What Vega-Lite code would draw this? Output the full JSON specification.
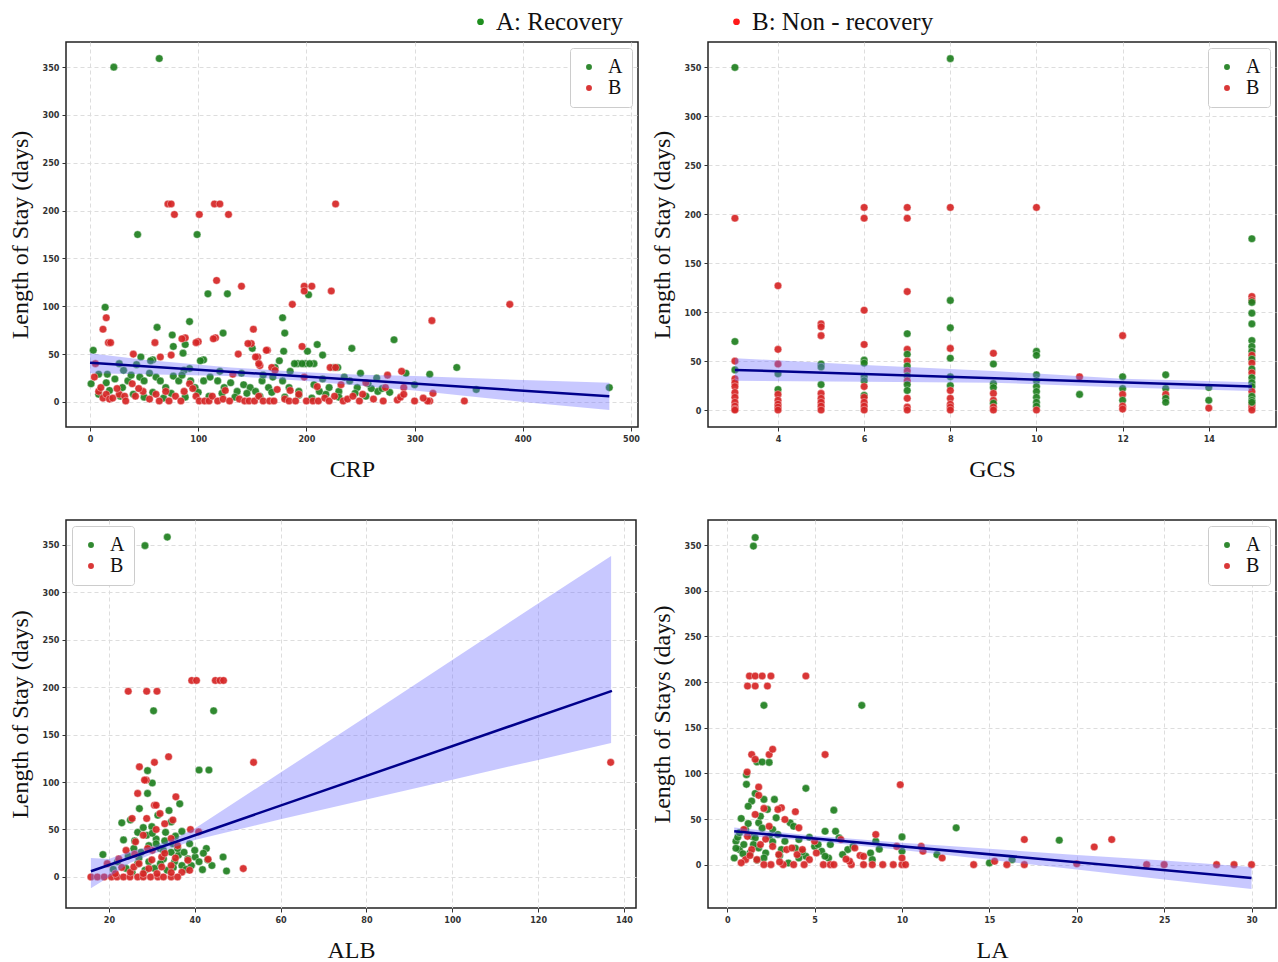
{
  "$schema": "https://vega.github.io/schema/vega-lite/v6.json",
  "autosize": {"type": "none"},
  "padding": {"left": 66, "top": 42, "right": 1212, "bottom": 920},
  "background": "white",
  "columns": 2,
  "spacing": {"row": 93, "column": 70},
  "bounds": "flush",
  "resolve": {"scale": {"color": "independent", "fill": "independent"}, "legend": {"color": "independent", "fill": "independent"}},
  "datasets": {
    "topLegend": [{"label": "A: Recovery"}, {"label": "B: Non - recovery"}],
    "crpLine": [{"x": 0, "y": 41}, {"x": 480, "y": 6}],
    "crpBand": [{"x": 0, "lo": 30, "hi": 51}, {"x": 50, "lo": 29, "hi": 44}, {"x": 130, "lo": 27, "hi": 36}, {"x": 200, "lo": 22, "hi": 31}, {"x": 250, "lo": 17, "hi": 28.5}, {"x": 300, "lo": 12, "hi": 27}, {"x": 350, "lo": 6, "hi": 25}, {"x": 400, "lo": 0, "hi": 23}, {"x": 480, "lo": -8.5, "hi": 20}],
    "gcsLine": [{"x": 3, "y": 41}, {"x": 15, "y": 24}],
    "gcsBand": [{"x": 3, "lo": 30, "hi": 53}, {"x": 6, "lo": 29, "hi": 46}, {"x": 9, "lo": 28, "hi": 40}, {"x": 12, "lo": 23, "hi": 32}, {"x": 15, "lo": 19.5, "hi": 28.5}],
    "albLine": [{"x": 15.8, "y": 6}, {"x": 137.2, "y": 196}],
    "albBand": [{"x": 15.8, "lo": -12, "hi": 20}, {"x": 20, "lo": 0, "hi": 19}, {"x": 25, "lo": 15, "hi": 27}, {"x": 30, "lo": 24, "hi": 32}, {"x": 35, "lo": 31, "hi": 40}, {"x": 40, "lo": 39, "hi": 51}, {"x": 60, "lo": 60.8, "hi": 110}, {"x": 80, "lo": 81.6, "hi": 169}, {"x": 100, "lo": 102.5, "hi": 228.5}, {"x": 120, "lo": 123.3, "hi": 288}, {"x": 137, "lo": 141, "hi": 338}],
    "laLine": [{"x": 0.4, "y": 36.6}, {"x": 30, "y": -14.6}],
    "laBand": [{"x": 0.4, "lo": 32.6, "hi": 40.6}, {"x": 5, "lo": 25.7, "hi": 31.7}, {"x": 10, "lo": 16, "hi": 24}, {"x": 15, "lo": 5.4, "hi": 17.4}, {"x": 20, "lo": -5.3, "hi": 10.7}, {"x": 25, "lo": -16.4, "hi": 4.6}, {"x": 30, "lo": -26.6, "hi": -2.6}],
    "crp": [
      {"x":22,"y":350,"g":"A"},{"x":64,"y":359,"g":"A"},{"x":44,"y":175,"g":"A"},{"x":99,"y":175,"g":"A"},{"x":109,"y":113,"g":"A"},{"x":127,"y":113,"g":"A"},{"x":202,"y":112,"g":"A"},{"x":14,"y":99,"g":"A"},{"x":178,"y":88,"g":"A"},{"x":62,"y":78,"g":"A"},{"x":92,"y":84,"g":"A"},{"x":76,"y":70,"g":"A"},{"x":180,"y":72,"g":"A"},{"x":123,"y":72,"g":"A"},{"x":281,"y":65,"g":"A"},{"x":88,"y":60,"g":"A"},{"x":77,"y":58,"g":"A"},{"x":210,"y":60,"g":"A"},{"x":242,"y":56,"g":"A"},{"x":179,"y":53,"g":"A"},{"x":201,"y":53,"g":"A"},{"x":215,"y":49,"g":"A"},{"x":86,"y":51,"g":"A"},{"x":3,"y":54,"g":"A"},{"x":47,"y":47,"g":"A"},{"x":150,"y":56,"g":"A"},{"x":105,"y":44,"g":"A"},{"x":58,"y":44,"g":"A"},{"x":192,"y":40,"g":"A"},{"x":199,"y":40,"g":"A"},{"x":207,"y":40,"g":"A"},{"x":339,"y":36,"g":"A"},{"x":229,"y":36,"g":"A"},{"x":171,"y":36,"g":"A"},{"x":43,"y":39,"g":"A"},{"x":92,"y":35,"g":"A"},{"x":292,"y":30,"g":"A"},{"x":314,"y":29,"g":"A"},{"x":357,"y":13,"g":"A"},{"x":480,"y":15,"g":"A"},{"x":277,"y":10,"g":"A"},{"x":266,"y":11,"g":"A"},{"x":260,"y":14,"g":"A"},{"x":257,"y":19,"g":"A"},
      {"x":1,"y":19,"g":"A"},{"x":8,"y":29,"g":"A"},{"x":16,"y":29,"g":"A"},{"x":23,"y":24,"g":"A"},{"x":31,"y":33,"g":"A"},{"x":35,"y":22,"g":"A"},{"x":46,"y":26,"g":"A"},{"x":50,"y":22,"g":"A"},{"x":56,"y":43,"g":"A"},{"x":61,"y":26,"g":"A"},{"x":65,"y":22,"g":"A"},{"x":70,"y":15,"g":"A"},{"x":77,"y":27,"g":"A"},{"x":82,"y":22,"g":"A"},{"x":87,"y":33,"g":"A"},{"x":93,"y":22,"g":"A"},{"x":97,"y":15,"g":"A"},{"x":102,"y":43,"g":"A"},{"x":105,"y":22,"g":"A"},{"x":111,"y":26,"g":"A"},{"x":118,"y":22,"g":"A"},{"x":124,"y":15,"g":"A"},{"x":130,"y":20,"g":"A"},{"x":136,"y":11,"g":"A"},{"x":142,"y":18,"g":"A"},{"x":148,"y":15,"g":"A"},{"x":153,"y":11,"g":"A"},{"x":159,"y":22,"g":"A"},{"x":165,"y":15,"g":"A"},{"x":169,"y":26,"g":"A"},{"x":175,"y":43,"g":"A"},{"x":178,"y":22,"g":"A"},{"x":184,"y":15,"g":"A"},{"x":189,"y":40,"g":"A"},{"x":193,"y":11,"g":"A"},{"x":196,"y":40,"g":"A"},{"x":203,"y":40,"g":"A"},{"x":207,"y":18,"g":"A"},{"x":212,"y":11,"g":"A"},{"x":215,"y":24,"g":"A"},{"x":221,"y":15,"g":"A"},{"x":225,"y":36,"g":"A"},{"x":230,"y":11,"g":"A"},{"x":240,"y":22,"g":"A"},{"x":247,"y":15,"g":"A"},
      {"x":8,"y":8,"g":"A"},{"x":18,"y":12,"g":"A"},{"x":28,"y":6,"g":"A"},{"x":40,"y":8,"g":"A"},{"x":50,"y":5,"g":"A"},{"x":58,"y":10,"g":"A"},{"x":68,"y":4,"g":"A"},{"x":75,"y":9,"g":"A"},{"x":88,"y":5,"g":"A"},{"x":100,"y":10,"g":"A"},{"x":110,"y":6,"g":"A"},{"x":122,"y":9,"g":"A"},{"x":134,"y":5,"g":"A"},{"x":145,"y":9,"g":"A"},{"x":157,"y":6,"g":"A"},{"x":168,"y":10,"g":"A"},{"x":180,"y":5,"g":"A"},{"x":193,"y":7,"g":"A"},{"x":205,"y":4,"g":"A"},{"x":218,"y":8,"g":"A"},{"x":230,"y":5,"g":"A"},{"x":245,"y":9,"g":"A"},{"x":255,"y":6,"g":"A"},{"x":270,"y":14,"g":"A"},{"x":300,"y":18,"g":"A"},{"x":250,"y":30,"g":"A"},{"x":235,"y":26,"g":"A"},{"x":140,"y":30,"g":"A"},{"x":120,"y":32,"g":"A"},{"x":85,"y":28,"g":"A"},{"x":55,"y":30,"g":"A"},{"x":30,"y":15,"g":"A"},{"x":15,"y":20,"g":"A"},{"x":38,"y":28,"g":"A"},{"x":160,"y":28,"g":"A"},{"x":185,"y":32,"g":"A"},{"x":265,"y":25,"g":"A"},{"x":27,"y":40,"g":"A"},
      {"x":72,"y":207,"g":"B"},{"x":75,"y":207,"g":"B"},{"x":78,"y":196,"g":"B"},{"x":101,"y":196,"g":"B"},{"x":115,"y":207,"g":"B"},{"x":120,"y":207,"g":"B"},{"x":128,"y":196,"g":"B"},{"x":227,"y":207,"g":"B"},{"x":117,"y":127,"g":"B"},{"x":140,"y":121,"g":"B"},{"x":198,"y":121,"g":"B"},{"x":205,"y":121,"g":"B"},{"x":198,"y":116,"g":"B"},{"x":223,"y":116,"g":"B"},{"x":187,"y":102,"g":"B"},{"x":388,"y":102,"g":"B"},{"x":15,"y":88,"g":"B"},{"x":12,"y":76,"g":"B"},{"x":316,"y":85,"g":"B"},{"x":151,"y":76,"g":"B"},{"x":17,"y":62,"g":"B"},{"x":19,"y":62,"g":"B"},{"x":60,"y":62,"g":"B"},{"x":88,"y":67,"g":"B"},{"x":116,"y":67,"g":"B"},{"x":100,"y":63,"g":"B"},{"x":149,"y":61,"g":"B"},{"x":164,"y":54,"g":"B"},{"x":196,"y":58,"g":"B"},{"x":40,"y":50,"g":"B"},{"x":65,"y":47,"g":"B"},{"x":137,"y":50,"g":"B"},{"x":155,"y":47,"g":"B"},{"x":222,"y":36,"g":"B"},{"x":227,"y":36,"g":"B"},{"x":157,"y":38,"g":"B"},{"x":288,"y":32,"g":"B"},{"x":275,"y":28,"g":"B"},{"x":317,"y":9,"g":"B"},{"x":346,"y":1,"g":"B"},{"x":314,"y":1,"g":"B"},{"x":312,"y":1,"g":"B"},{"x":300,"y":1,"g":"B"},{"x":284,"y":2,"g":"B"},{"x":287,"y":5,"g":"B"},{"x":290,"y":15,"g":"B"},{"x":273,"y":15,"g":"B"},{"x":271,"y":1,"g":"B"},
      {"x":4,"y":26,"g":"B"},{"x":8,"y":11,"g":"B"},{"x":12,"y":4,"g":"B"},{"x":15,"y":8,"g":"B"},{"x":18,"y":3,"g":"B"},{"x":21,"y":4,"g":"B"},{"x":27,"y":8,"g":"B"},{"x":32,"y":6,"g":"B"},{"x":33,"y":1,"g":"B"},{"x":39,"y":19,"g":"B"},{"x":42,"y":6,"g":"B"},{"x":49,"y":11,"g":"B"},{"x":55,"y":3,"g":"B"},{"x":61,"y":8,"g":"B"},{"x":64,"y":1,"g":"B"},{"x":70,"y":11,"g":"B"},{"x":73,"y":1,"g":"B"},{"x":79,"y":6,"g":"B"},{"x":84,"y":1,"g":"B"},{"x":87,"y":11,"g":"B"},{"x":92,"y":19,"g":"B"},{"x":98,"y":6,"g":"B"},{"x":101,"y":1,"g":"B"},{"x":106,"y":1,"g":"B"},{"x":110,"y":1,"g":"B"},{"x":113,"y":6,"g":"B"},{"x":118,"y":1,"g":"B"},{"x":123,"y":3,"g":"B"},{"x":129,"y":1,"g":"B"},{"x":132,"y":29,"g":"B"},{"x":138,"y":3,"g":"B"},{"x":143,"y":1,"g":"B"},{"x":147,"y":1,"g":"B"},{"x":152,"y":1,"g":"B"},{"x":156,"y":6,"g":"B"},{"x":160,"y":1,"g":"B"},{"x":166,"y":1,"g":"B"},{"x":170,"y":1,"g":"B"},{"x":173,"y":13,"g":"B"},{"x":180,"y":3,"g":"B"},{"x":184,"y":1,"g":"B"},{"x":190,"y":1,"g":"B"},{"x":193,"y":8,"g":"B"},{"x":200,"y":1,"g":"B"},{"x":206,"y":1,"g":"B"},{"x":211,"y":1,"g":"B"},{"x":217,"y":4,"g":"B"},{"x":221,"y":1,"g":"B"},{"x":226,"y":6,"g":"B"},{"x":234,"y":1,"g":"B"},{"x":238,"y":3,"g":"B"},{"x":243,"y":6,"g":"B"},{"x":249,"y":1,"g":"B"},{"x":252,"y":8,"g":"B"},
      {"x":85,"y":66,"g":"B"},{"x":98,"y":62,"g":"B"},{"x":114,"y":66,"g":"B"},{"x":146,"y":61,"g":"B"},{"x":163,"y":54,"g":"B"},{"x":153,"y":47,"g":"B"},{"x":156,"y":40,"g":"B"},{"x":168,"y":36,"g":"B"},{"x":171,"y":33,"g":"B"},{"x":75,"y":49,"g":"B"},{"x":10,"y":15,"g":"B"},{"x":25,"y":14,"g":"B"},{"x":45,"y":14,"g":"B"},{"x":95,"y":14,"g":"B"},{"x":125,"y":12,"g":"B"},{"x":185,"y":12,"g":"B"},{"x":210,"y":16,"g":"B"},{"x":255,"y":20,"g":"B"},{"x":262,"y":3,"g":"B"},{"x":232,"y":18,"g":"B"},{"x":198,"y":26,"g":"B"},{"x":290,"y":8,"g":"B"},{"x":308,"y":4,"g":"B"},{"x":5,"y":40,"g":"B"}
    ],
    "gcs": [
      {"x":3,"y":350,"g":"A"},{"x":3,"y":196,"g":"B"},{"x":3,"y":70,"g":"A"},{"x":3,"y":50,"g":"B"},{"x":3,"y":41,"g":"A"},{"x":3,"y":32,"g":"B"},{"x":3,"y":28,"g":"B"},{"x":3,"y":24,"g":"B"},{"x":3,"y":18,"g":"B"},{"x":3,"y":13,"g":"B"},{"x":3,"y":8,"g":"B"},{"x":3,"y":4,"g":"B"},{"x":3,"y":1,"g":"B"},{"x":3,"y":0,"g":"B"},
      {"x":4,"y":127,"g":"B"},{"x":4,"y":62,"g":"B"},{"x":4,"y":47,"g":"B"},{"x":4,"y":37,"g":"A"},{"x":4,"y":21,"g":"A"},{"x":4,"y":16,"g":"B"},{"x":4,"y":10,"g":"B"},{"x":4,"y":6,"g":"B"},{"x":4,"y":3,"g":"B"},{"x":4,"y":0,"g":"B"},
      {"x":5,"y":88,"g":"B"},{"x":5,"y":85,"g":"B"},{"x":5,"y":76,"g":"B"},{"x":5,"y":47,"g":"A"},{"x":5,"y":44,"g":"A"},{"x":5,"y":26,"g":"A"},{"x":5,"y":17,"g":"B"},{"x":5,"y":12,"g":"B"},{"x":5,"y":8,"g":"B"},{"x":5,"y":4,"g":"B"},{"x":5,"y":0,"g":"B"},
      {"x":6,"y":207,"g":"B"},{"x":6,"y":196,"g":"B"},{"x":6,"y":102,"g":"B"},{"x":6,"y":67,"g":"B"},{"x":6,"y":51,"g":"A"},{"x":6,"y":48,"g":"A"},{"x":6,"y":34,"g":"A"},{"x":6,"y":30,"g":"A"},{"x":6,"y":24,"g":"B"},{"x":6,"y":15,"g":"A"},{"x":6,"y":13,"g":"B"},{"x":6,"y":8,"g":"B"},{"x":6,"y":4,"g":"B"},{"x":6,"y":0,"g":"B"},
      {"x":7,"y":207,"g":"B"},{"x":7,"y":196,"g":"B"},{"x":7,"y":121,"g":"B"},{"x":7,"y":78,"g":"A"},{"x":7,"y":62,"g":"B"},{"x":7,"y":57,"g":"A"},{"x":7,"y":50,"g":"B"},{"x":7,"y":45,"g":"A"},{"x":7,"y":40,"g":"B"},{"x":7,"y":35,"g":"A"},{"x":7,"y":30,"g":"B"},{"x":7,"y":26,"g":"A"},{"x":7,"y":20,"g":"A"},{"x":7,"y":12,"g":"B"},{"x":7,"y":3,"g":"B"},{"x":7,"y":0,"g":"B"},
      {"x":8,"y":359,"g":"A"},{"x":8,"y":207,"g":"B"},{"x":8,"y":112,"g":"A"},{"x":8,"y":84,"g":"A"},{"x":8,"y":63,"g":"B"},{"x":8,"y":53,"g":"A"},{"x":8,"y":34,"g":"A"},{"x":8,"y":25,"g":"A"},{"x":8,"y":20,"g":"B"},{"x":8,"y":12,"g":"B"},{"x":8,"y":6,"g":"B"},{"x":8,"y":3,"g":"B"},{"x":8,"y":0,"g":"B"},
      {"x":9,"y":58,"g":"B"},{"x":9,"y":47,"g":"A"},{"x":9,"y":27,"g":"A"},{"x":9,"y":23,"g":"A"},{"x":9,"y":17,"g":"B"},{"x":9,"y":10,"g":"B"},{"x":9,"y":7,"g":"A"},{"x":9,"y":3,"g":"B"},{"x":9,"y":0,"g":"B"},
      {"x":10,"y":207,"g":"B"},{"x":10,"y":60,"g":"A"},{"x":10,"y":56,"g":"A"},{"x":10,"y":36,"g":"A"},{"x":10,"y":30,"g":"A"},{"x":10,"y":24,"g":"A"},{"x":10,"y":19,"g":"A"},{"x":10,"y":13,"g":"A"},{"x":10,"y":8,"g":"A"},{"x":10,"y":4,"g":"A"},{"x":10,"y":0,"g":"B"},
      {"x":11,"y":34,"g":"B"},{"x":11,"y":16,"g":"A"},
      {"x":12,"y":76,"g":"B"},{"x":12,"y":34,"g":"A"},{"x":12,"y":22,"g":"A"},{"x":12,"y":16,"g":"B"},{"x":12,"y":10,"g":"A"},{"x":12,"y":4,"g":"B"},{"x":12,"y":1,"g":"B"},
      {"x":13,"y":36,"g":"A"},{"x":13,"y":22,"g":"A"},{"x":13,"y":16,"g":"B"},{"x":13,"y":12,"g":"A"},{"x":13,"y":8,"g":"A"},
      {"x":14,"y":23,"g":"A"},{"x":14,"y":10,"g":"A"},{"x":14,"y":2,"g":"B"},
      {"x":15,"y":175,"g":"A"},{"x":15,"y":116,"g":"B"},{"x":15,"y":112,"g":"B"},{"x":15,"y":110,"g":"A"},{"x":15,"y":99,"g":"A"},{"x":15,"y":88,"g":"A"},{"x":15,"y":71,"g":"A"},{"x":15,"y":65,"g":"A"},{"x":15,"y":60,"g":"A"},{"x":15,"y":56,"g":"B"},{"x":15,"y":52,"g":"A"},{"x":15,"y":48,"g":"B"},{"x":15,"y":42,"g":"A"},{"x":15,"y":38,"g":"B"},{"x":15,"y":33,"g":"A"},{"x":15,"y":28,"g":"A"},{"x":15,"y":24,"g":"A"},{"x":15,"y":19,"g":"B"},{"x":15,"y":14,"g":"A"},{"x":15,"y":10,"g":"A"},{"x":15,"y":6,"g":"B"},{"x":15,"y":3,"g":"B"},{"x":15,"y":0,"g":"B"},{"x":15,"y":8,"g":"A"}
    ],
    "alb": [
      {"x":28.4,"y":349,"g":"A"},{"x":33.6,"y":358,"g":"A"},{"x":30.4,"y":175,"g":"A"},{"x":44.4,"y":175,"g":"A"},{"x":41,"y":112.6,"g":"A"},{"x":43.3,"y":112.6,"g":"A"},{"x":29,"y":112,"g":"A"},{"x":30.1,"y":99,"g":"A"},{"x":29,"y":88,"g":"A"},{"x":27.1,"y":72,"g":"A"},{"x":34,"y":70,"g":"A"},{"x":36.5,"y":77,"g":"A"},{"x":23,"y":57,"g":"A"},{"x":30,"y":53,"g":"A"},{"x":23.4,"y":39,"g":"A"},{"x":18.6,"y":23.6,"g":"A"},{"x":26.7,"y":47,"g":"A"},{"x":28.8,"y":44,"g":"A"},{"x":31,"y":40,"g":"A"},{"x":33.2,"y":47,"g":"A"},{"x":34.5,"y":58,"g":"A"},{"x":31.4,"y":65,"g":"A"},{"x":38.8,"y":35,"g":"A"},{"x":40.1,"y":21,"g":"A"},{"x":42.7,"y":30,"g":"A"},{"x":44,"y":12,"g":"A"},{"x":46.6,"y":21,"g":"A"},{"x":47.4,"y":6.3,"g":"A"},{"x":41.8,"y":7.7,"g":"A"},{"x":37,"y":12,"g":"A"},{"x":35.3,"y":16,"g":"A"},{"x":25.8,"y":30,"g":"A"},{"x":24,"y":9,"g":"A"},{"x":21,"y":8,"g":"A"},{"x":22,"y":16,"g":"A"},{"x":31.9,"y":30,"g":"A"},{"x":32.7,"y":19,"g":"A"},{"x":29.3,"y":16,"g":"A"},{"x":27.5,"y":26,"g":"A"},{"x":34.5,"y":26,"g":"A"},{"x":36.2,"y":23,"g":"A"},{"x":38.4,"y":19,"g":"A"},{"x":39.2,"y":12,"g":"A"},{"x":41,"y":16,"g":"A"},{"x":26.7,"y":14,"g":"A"},{"x":30.6,"y":9,"g":"A"},{"x":33.6,"y":7,"g":"A"},{"x":28.4,"y":7,"g":"A"},{"x":25.4,"y":5,"g":"A"},{"x":31,"y":35,"g":"A"},{"x":29.3,"y":33,"g":"A"},{"x":32.7,"y":28,"g":"A"},{"x":30.1,"y":46,"g":"A"},{"x":34.9,"y":35,"g":"A"},{"x":36,"y":30,"g":"A"},{"x":37.5,"y":26,"g":"A"},{"x":33,"y":38,"g":"A"},{"x":27,"y":20,"g":"A"},{"x":24.5,"y":22,"g":"A"},{"x":35,"y":10,"g":"A"},{"x":32,"y":14,"g":"A"},{"x":38,"y":8,"g":"A"},{"x":42,"y":25,"g":"A"},{"x":43,"y":18,"g":"A"},{"x":40,"y":28,"g":"A"},{"x":26,"y":38,"g":"A"},{"x":28,"y":52,"g":"A"},{"x":25,"y":60,"g":"A"},{"x":35.5,"y":43,"g":"A"},{"x":37,"y":48,"g":"A"},
      {"x":24.5,"y":195.6,"g":"B"},{"x":28.8,"y":195.6,"g":"B"},{"x":31.2,"y":195.6,"g":"B"},{"x":39.3,"y":207,"g":"B"},{"x":40.4,"y":207,"g":"B"},{"x":44.8,"y":207,"g":"B"},{"x":45.9,"y":207,"g":"B"},{"x":46.7,"y":207,"g":"B"},{"x":33.9,"y":126.6,"g":"B"},{"x":30.6,"y":120.7,"g":"B"},{"x":27.1,"y":116,"g":"B"},{"x":53.7,"y":120.7,"g":"B"},{"x":136.9,"y":120.7,"g":"B"},{"x":28.7,"y":102,"g":"B"},{"x":28.3,"y":102,"g":"B"},{"x":26.7,"y":88,"g":"B"},{"x":30.6,"y":75.6,"g":"B"},{"x":31,"y":75.6,"g":"B"},{"x":35.6,"y":84.4,"g":"B"},{"x":25.4,"y":61.6,"g":"B"},{"x":28.8,"y":61.6,"g":"B"},{"x":19.6,"y":14,"g":"B"},{"x":51.3,"y":8.8,"g":"B"},{"x":43.1,"y":18.6,"g":"B"},{"x":39,"y":50,"g":"B"},{"x":40.9,"y":47.5,"g":"B"},{"x":34.5,"y":40.5,"g":"B"},{"x":31.9,"y":66.8,"g":"B"},{"x":34.9,"y":60,"g":"B"},{"x":28,"y":44,"g":"B"},{"x":26.2,"y":37,"g":"B"},{"x":24,"y":28,"g":"B"},{"x":22.3,"y":19,"g":"B"},{"x":30.1,"y":28,"g":"B"},{"x":32.3,"y":21,"g":"B"},{"x":34.5,"y":12,"g":"B"},{"x":38.4,"y":17.6,"g":"B"},{"x":38.8,"y":7,"g":"B"},{"x":37,"y":5,"g":"B"},
      {"x":15.8,"y":0,"g":"B"},{"x":17.3,"y":0,"g":"B"},{"x":18.9,"y":0,"g":"B"},{"x":20.6,"y":0,"g":"B"},{"x":21.9,"y":0,"g":"B"},{"x":23.4,"y":0,"g":"B"},{"x":24.9,"y":0,"g":"B"},{"x":26.7,"y":0,"g":"B"},{"x":28,"y":0,"g":"B"},{"x":29.7,"y":0,"g":"B"},{"x":31.4,"y":0,"g":"B"},{"x":32.7,"y":0,"g":"B"},{"x":34.5,"y":0,"g":"B"},{"x":36,"y":0,"g":"B"},
      {"x":21.5,"y":3.5,"g":"B"},{"x":25,"y":5,"g":"B"},{"x":28,"y":3.5,"g":"B"},{"x":31.2,"y":3.5,"g":"B"},{"x":34.5,"y":4.6,"g":"B"},{"x":29.3,"y":8.8,"g":"B"},{"x":25.8,"y":10.5,"g":"B"},{"x":32.3,"y":10.5,"g":"B"},{"x":27,"y":14,"g":"B"},{"x":30,"y":18,"g":"B"},{"x":33,"y":25,"g":"B"},{"x":36,"y":33,"g":"B"},{"x":29,"y":30,"g":"B"},{"x":23,"y":10,"g":"B"},{"x":35.5,"y":20,"g":"B"},{"x":26,"y":24,"g":"B"},{"x":31,"y":50,"g":"B"},{"x":33,"y":56,"g":"B"}
    ],
    "la": [
      {"x":1.5,"y":349,"g":"A"},{"x":1.6,"y":358.4,"g":"A"},{"x":2.1,"y":174.5,"g":"A"},{"x":7.7,"y":174.5,"g":"A"},{"x":1.7,"y":112.5,"g":"A"},{"x":2.0,"y":112.5,"g":"A"},{"x":2.4,"y":112,"g":"A"},{"x":1.1,"y":98.6,"g":"A"},{"x":1.1,"y":88,"g":"A"},{"x":4.5,"y":83.6,"g":"A"},{"x":1.6,"y":78,"g":"A"},{"x":1.4,"y":69.6,"g":"A"},{"x":2.1,"y":71.5,"g":"A"},{"x":2.7,"y":71.5,"g":"A"},{"x":6.1,"y":59.7,"g":"A"},{"x":13.1,"y":40.3,"g":"A"},{"x":19,"y":26.8,"g":"A"},{"x":10,"y":30.4,"g":"A"},{"x":16.3,"y":5.5,"g":"A"},{"x":15,"y":1.8,"g":"A"},{"x":0.8,"y":50.6,"g":"A"},{"x":1.05,"y":38.5,"g":"A"},{"x":1.4,"y":31,"g":"A"},{"x":0.5,"y":25.7,"g":"A"},{"x":0.4,"y":7.3,"g":"A"},{"x":0.7,"y":16.5,"g":"A"},{"x":1.3,"y":12.8,"g":"A"},{"x":1.8,"y":18.3,"g":"A"},{"x":2.2,"y":12.8,"g":"A"},{"x":2.6,"y":38.5,"g":"A"},{"x":2.8,"y":51.3,"g":"A"},{"x":3.3,"y":25.7,"g":"A"},{"x":3.6,"y":45.8,"g":"A"},{"x":3.8,"y":42,"g":"A"},{"x":4.1,"y":27.5,"g":"A"},{"x":4.5,"y":9.2,"g":"A"},{"x":5,"y":20,"g":"A"},{"x":5.4,"y":14.7,"g":"A"},{"x":5.6,"y":36.6,"g":"A"},{"x":5.9,"y":22,"g":"A"},{"x":6.2,"y":36.6,"g":"A"},{"x":6.4,"y":29.3,"g":"A"},{"x":5.8,"y":7.3,"g":"A"},{"x":6.9,"y":16.5,"g":"A"},{"x":8.2,"y":12.8,"g":"A"},{"x":8.5,"y":25.7,"g":"A"},{"x":10,"y":14.7,"g":"A"},{"x":12,"y":11,"g":"A"},{"x":1.8,"y":45.8,"g":"A"},{"x":2.3,"y":60.5,"g":"A"},{"x":1.2,"y":64,"g":"A"},{"x":1.9,"y":53,"g":"A"},{"x":1.6,"y":29.3,"g":"A"},{"x":2.4,"y":31,"g":"A"},{"x":3.1,"y":16.5,"g":"A"},{"x":3.5,"y":1.8,"g":"A"},{"x":4.1,"y":7.3,"g":"A"},{"x":0.95,"y":22,"g":"A"},{"x":2.1,"y":7.3,"g":"A"},{"x":5.2,"y":22,"g":"A"},{"x":5.6,"y":9.2,"g":"A"},{"x":8.3,"y":5.5,"g":"A"},{"x":0.6,"y":30,"g":"A"},{"x":0.9,"y":12,"g":"A"},{"x":1.5,"y":22,"g":"A"},{"x":2,"y":40,"g":"A"},{"x":2.9,"y":33,"g":"A"},{"x":3,"y":10,"g":"A"},{"x":3.9,"y":18,"g":"A"},{"x":4.7,"y":30,"g":"A"},{"x":1.2,"y":45,"g":"A"},{"x":0.7,"y":35,"g":"A"},{"x":1.7,"y":5,"g":"A"},{"x":2.6,"y":25,"g":"A"},{"x":4.3,"y":14,"g":"A"},{"x":6.6,"y":11,"g":"A"},{"x":7.2,"y":20,"g":"A"},{"x":8.7,"y":17,"g":"A"},{"x":0.5,"y":18,"g":"A"},
      {"x":1.27,"y":206.7,"g":"B"},{"x":1.6,"y":206.7,"g":"B"},{"x":2.0,"y":206.7,"g":"B"},{"x":2.5,"y":206.7,"g":"B"},{"x":1.16,"y":195.7,"g":"B"},{"x":1.6,"y":195.7,"g":"B"},{"x":2.3,"y":195.7,"g":"B"},{"x":4.5,"y":206.7,"g":"B"},{"x":1.4,"y":120.6,"g":"B"},{"x":1.6,"y":115.4,"g":"B"},{"x":2.4,"y":120.6,"g":"B"},{"x":2.6,"y":126.4,"g":"B"},{"x":5.6,"y":120.6,"g":"B"},{"x":1.14,"y":101.5,"g":"B"},{"x":9.9,"y":87.6,"g":"B"},{"x":1.8,"y":85,"g":"B"},{"x":1.8,"y":75.9,"g":"B"},{"x":2.1,"y":61.6,"g":"B"},{"x":3.9,"y":58,"g":"B"},{"x":3.1,"y":62.3,"g":"B"},{"x":3.3,"y":49.5,"g":"B"},{"x":17,"y":27.5,"g":"B"},{"x":21,"y":19.4,"g":"B"},{"x":22,"y":27.5,"g":"B"},{"x":24,"y":0,"g":"B"},{"x":25,"y":0,"g":"B"},{"x":28,"y":0,"g":"B"},{"x":29,"y":0,"g":"B"},{"x":30,"y":0,"g":"B"},{"x":20,"y":1,"g":"B"},{"x":17,"y":0,"g":"B"},{"x":16,"y":0,"g":"B"},{"x":14.1,"y":0,"g":"B"},{"x":15.3,"y":3.7,"g":"B"},{"x":11.2,"y":14.7,"g":"B"},{"x":12.3,"y":7.3,"g":"B"},{"x":11.1,"y":20,"g":"B"},{"x":10,"y":0,"g":"B"},{"x":10.2,"y":0,"g":"B"},{"x":9.5,"y":0,"g":"B"},{"x":8.9,"y":0,"g":"B"},{"x":8.3,"y":0,"g":"B"},{"x":7.8,"y":0,"g":"B"},{"x":7.1,"y":0,"g":"B"},{"x":7,"y":3.7,"g":"B"},{"x":7.6,"y":10,"g":"B"},{"x":7.8,"y":9,"g":"B"},{"x":8.5,"y":33,"g":"B"},{"x":9.7,"y":20,"g":"B"},{"x":10,"y":7.3,"g":"B"},{"x":5.5,"y":0,"g":"B"},{"x":5.9,"y":0,"g":"B"},{"x":6.1,"y":0,"g":"B"},{"x":4.7,"y":5.5,"g":"B"},{"x":4.4,"y":0,"g":"B"},{"x":3.8,"y":0,"g":"B"},{"x":3.2,"y":0,"g":"B"},{"x":2.5,"y":0,"g":"B"},{"x":2.1,"y":0,"g":"B"},{"x":1.7,"y":5.5,"g":"B"},{"x":1.05,"y":5.5,"g":"B"},{"x":1.4,"y":16.5,"g":"B"},{"x":1.9,"y":22,"g":"B"},{"x":2.6,"y":20,"g":"B"},{"x":2.95,"y":11,"g":"B"},{"x":3.4,"y":16.5,"g":"B"},{"x":4,"y":11,"g":"B"},{"x":3.7,"y":18.3,"g":"B"},{"x":5,"y":25.7,"g":"B"},{"x":4.1,"y":40.3,"g":"B"},{"x":2.9,"y":60.5,"g":"B"},{"x":1.6,"y":55,"g":"B"},{"x":0.95,"y":38.5,"g":"B"},{"x":2.4,"y":42,"g":"B"},{"x":1.16,"y":31,"g":"B"},{"x":6.5,"y":27.5,"g":"B"},{"x":7.3,"y":18.3,"g":"B"},{"x":5.1,"y":12.8,"g":"B"},{"x":4.3,"y":16.5,"g":"B"},{"x":1.3,"y":10,"g":"B"},{"x":2.2,"y":28,"g":"B"},{"x":3,"y":3,"g":"B"},{"x":0.8,"y":2,"g":"B"},{"x":6.8,"y":6,"g":"B"}
    ]
  },
  "concat": [
    {
      "width": 572, "height": 385,
      "encoding": {"x": {"field": "x", "type": "quantitative", "title": "CRP", "scale": {"domain": [-22.2, 506.5], "nice": false, "zero": false}, "axis": {"values": [0, 100, 200, 300, 400, 500]}}},
      "layer": [
        {"data": {"name": "crp"}, "mark": {"type": "circle", "size": 58, "opacity": 0.92, "stroke": "white", "strokeWidth": 0.4},
         "encoding": {"y": {"field": "y", "type": "quantitative", "title": "Length of Stay (days)", "scale": {"domain": [-26.2, 376.3], "nice": false, "zero": false}, "axis": {"values": [0, 50, 100, 150, 200, 250, 300, 350]}},
           "color": {"field": "g", "type": "nominal", "scale": {"domain": ["A", "B"], "range": ["#1f7f1f", "#d62626"]}, "legend": {"title": null, "orient": "top-right", "labelExpr": "datum.label + '  '"}}}},
        {"data": {"name": "crpBand"}, "mark": {"type": "area", "color": "#6f6fff", "opacity": 0.38},
         "encoding": {"y": {"field": "lo", "type": "quantitative", "title": "Length of Stay (days)", "scale": {"domain": [-26.2, 376.3], "nice": false, "zero": false}}, "y2": {"field": "hi"}}},
        {"data": {"name": "crpLine"}, "mark": {"type": "line", "color": "#00008b", "strokeWidth": 2.5},
         "encoding": {"y": {"field": "y", "type": "quantitative", "title": "Length of Stay (days)", "scale": {"domain": [-26.2, 376.3], "nice": false, "zero": false}}}},
        {"data": {"name": "topLegend"}, "transform": [{"filter": "false"}], "mark": {"type": "circle", "opacity": 1},
         "encoding": {"fill": {"field": "label", "type": "nominal", "scale": {"domain": ["A: Recovery", "B: Non - recovery"], "range": ["#1f8f1f", "#ff1a1a"]},
           "legend": {"title": null, "orient": "none", "legendX": 402, "legendY": -33, "direction": "horizontal", "columnPadding": 100, "labelFontSize": 25, "labelLimit": 400, "symbolSize": 45, "labelOffset": 3, "padding": 0, "strokeColor": "transparent", "fillColor": "transparent", "symbolOffset": 0}}}}
      ]
    },
    {
      "width": 568, "height": 385,
      "encoding": {"x": {"field": "x", "type": "quantitative", "title": "GCS", "scale": {"domain": [2.375, 15.56], "nice": false, "zero": false}, "axis": {"values": [4, 6, 8, 10, 12, 14]}}},
      "layer": [
        {"data": {"name": "gcs"}, "mark": {"type": "circle", "size": 58, "opacity": 0.92, "stroke": "white", "strokeWidth": 0.4},
         "encoding": {"y": {"field": "y", "type": "quantitative", "title": "Length of Stay (days)", "scale": {"domain": [-17.3, 376], "nice": false, "zero": false}, "axis": {"values": [0, 50, 100, 150, 200, 250, 300, 350]}},
           "color": {"field": "g", "type": "nominal", "scale": {"domain": ["A", "B"], "range": ["#1f7f1f", "#d62626"]}, "legend": {"title": null, "orient": "top-right", "labelExpr": "datum.label + '  '"}}}},
        {"data": {"name": "gcsBand"}, "mark": {"type": "area", "color": "#6f6fff", "opacity": 0.38},
         "encoding": {"y": {"field": "lo", "type": "quantitative", "title": "Length of Stay (days)", "scale": {"domain": [-17.3, 376], "nice": false, "zero": false}}, "y2": {"field": "hi"}}},
        {"data": {"name": "gcsLine"}, "mark": {"type": "line", "color": "#00008b", "strokeWidth": 2.5},
         "encoding": {"y": {"field": "y", "type": "quantitative", "title": "Length of Stay (days)", "scale": {"domain": [-17.3, 376], "nice": false, "zero": false}}}}
      ]
    },
    {
      "width": 570, "height": 388,
      "encoding": {"x": {"field": "x", "type": "quantitative", "title": "ALB", "scale": {"domain": [10, 142.8], "nice": false, "zero": false}, "axis": {"values": [20, 40, 60, 80, 100, 120, 140]}}},
      "layer": [
        {"data": {"name": "alb"}, "mark": {"type": "circle", "size": 58, "opacity": 0.92, "stroke": "white", "strokeWidth": 0.4},
         "encoding": {"y": {"field": "y", "type": "quantitative", "title": "Length of Stay (days)", "scale": {"domain": [-32.7, 376], "nice": false, "zero": false}, "axis": {"values": [0, 50, 100, 150, 200, 250, 300, 350]}},
           "color": {"field": "g", "type": "nominal", "scale": {"domain": ["A", "B"], "range": ["#1f7f1f", "#d62626"]}, "legend": {"title": null, "orient": "top-left", "labelExpr": "datum.label + '  '"}}}},
        {"data": {"name": "albBand"}, "mark": {"type": "area", "color": "#6f6fff", "opacity": 0.38},
         "encoding": {"y": {"field": "lo", "type": "quantitative", "title": "Length of Stay (days)", "scale": {"domain": [-32.7, 376], "nice": false, "zero": false}}, "y2": {"field": "hi"}}},
        {"data": {"name": "albLine"}, "mark": {"type": "line", "color": "#00008b", "strokeWidth": 2.5},
         "encoding": {"y": {"field": "y", "type": "quantitative", "title": "Length of Stay (days)", "scale": {"domain": [-32.7, 376], "nice": false, "zero": false}}}}
      ]
    },
    {
      "width": 568, "height": 388,
      "encoding": {"x": {"field": "x", "type": "quantitative", "title": "LA", "scale": {"domain": [-1.1, 31.4], "nice": false, "zero": false}, "axis": {"values": [0, 5, 10, 15, 20, 25, 30]}}},
      "layer": [
        {"data": {"name": "la"}, "mark": {"type": "circle", "size": 58, "opacity": 0.92, "stroke": "white", "strokeWidth": 0.4},
         "encoding": {"y": {"field": "y", "type": "quantitative", "title": "Length of Stays (days)", "scale": {"domain": [-47.5, 377.6], "nice": false, "zero": false}, "axis": {"values": [0, 50, 100, 150, 200, 250, 300, 350]}},
           "color": {"field": "g", "type": "nominal", "scale": {"domain": ["A", "B"], "range": ["#1f7f1f", "#d62626"]}, "legend": {"title": null, "orient": "top-right", "labelExpr": "datum.label + '  '"}}}},
        {"data": {"name": "laBand"}, "mark": {"type": "area", "color": "#6f6fff", "opacity": 0.38},
         "encoding": {"y": {"field": "lo", "type": "quantitative", "title": "Length of Stays (days)", "scale": {"domain": [-47.5, 377.6], "nice": false, "zero": false}}, "y2": {"field": "hi"}}},
        {"data": {"name": "laLine"}, "mark": {"type": "line", "color": "#00008b", "strokeWidth": 2.5},
         "encoding": {"y": {"field": "y", "type": "quantitative", "title": "Length of Stays (days)", "scale": {"domain": [-47.5, 377.6], "nice": false, "zero": false}}}}
      ]
    }
  ],
  "config": {
    "view": {"stroke": "#222222", "strokeWidth": 1.5},
    "axis": {"domain": false, "grid": true, "gridColor": "#dddddd", "gridDash": [4, 3], "gridWidth": 1, "tickColor": "#333333", "tickSize": 4, "labelFont": "DejaVu Sans Condensed", "labelFontSize": 9, "labelFontWeight": "bold", "labelColor": "#333333", "labelPadding": 3, "titleFont": "Liberation Serif", "titleFontSize": 24, "titleFontWeight": "normal", "titleColor": "#111111"},
    "axisX": {"titlePadding": 14},
    "axisY": {"titlePadding": 10},
    "legend": {"labelFont": "Liberation Serif", "labelFontSize": 20, "labelColor": "#111111", "symbolType": "circle", "symbolSize": 35, "symbolStrokeWidth": 0, "padding": 9, "strokeColor": "#cccccc", "fillColor": "white", "cornerRadius": 3, "rowPadding": 1, "labelOffset": 9, "offset": 6}
  }
}
